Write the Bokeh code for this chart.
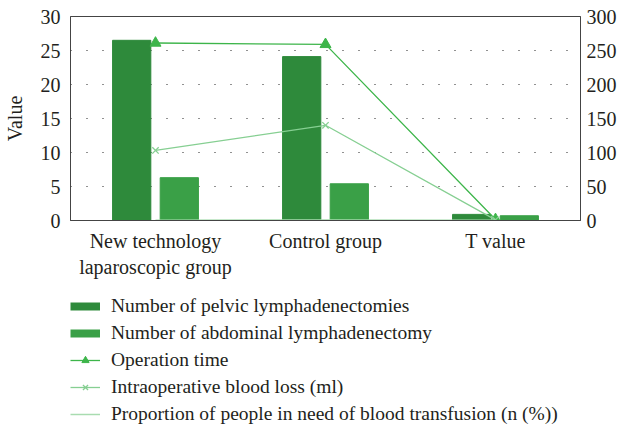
from bokeh.plotting import figure
from bokeh.layouts import column
from bokeh.models import (ColumnDataSource, FactorRange, Range1d, LinearAxis,
                          SingleIntervalTicker, Legend, LegendItem)
from bokeh.transform import dodge
from bokeh.embed import file_html
from bokeh.resources import INLINE

categories = ["New technology\nlaparoscopic group", "Control group", "T value"]
pelvic = [26.5, 24.1, 0.9]
abdominal = [6.3, 5.4, 0.7]
op_time = [261, 259, 1.5]
blood_loss = [103, 140, 1.0]
transfusion = [0.5, 0.6, 0.2]

legend_labels = ["Number of pelvic lymphadenectomies",
                 "Number of abdominal lymphadenectomy",
                 "Operation time",
                 "Intraoperative blood loss (ml)",
                 "Proportion of people in need of blood transfusion (n (%))"]

FONT = "Liberation Serif"
TXT = "#231f20"
C_PELVIC = "#2e8a3b"
C_ABD = "#3aa047"
C_OP = "#3db54a"
C_LOSS = "#86cf92"
C_TR = "#a9dcb0"

src = ColumnDataSource(dict(cat=categories, pelvic=pelvic, abdominal=abdominal,
                            op=op_time, loss=blood_loss, tr=transfusion))

p = figure(frame_width=510, frame_height=204, output_backend="svg", toolbar_location=None,
           x_range=FactorRange(factors=categories), y_range=Range1d(0, 30),
           min_border_left=64, min_border_top=16, min_border_right=4, min_border_bottom=62)
p.extra_y_ranges = {"right": Range1d(0, 300)}

p.outline_line_color = "#444444"
p.outline_line_width = 1
p.xgrid.grid_line_color = None
p.ygrid.grid_line_color = "#222222"
p.ygrid.grid_line_dash = "1 15"
p.ygrid.grid_line_width = 1.2

def style_axis(ax, standoff):
    ax.major_label_text_font = FONT
    ax.major_label_text_font_size = "20px"
    ax.major_label_text_color = TXT
    ax.major_label_standoff = standoff
    ax.major_tick_line_color = None
    ax.minor_tick_line_color = None
    ax.major_tick_out = 0
    ax.major_tick_in = 0
    ax.minor_tick_out = 0
    ax.minor_tick_in = 0
    ax.axis_line_color = "#444444"

# left axis
p.yaxis.ticker = SingleIntervalTicker(interval=5)
style_axis(p.yaxis[0], 10)
p.yaxis.axis_label = "Value"
p.yaxis.axis_label_text_font = FONT
p.yaxis.axis_label_text_font_style = "normal"
p.yaxis.axis_label_text_font_size = "20px"
p.yaxis.axis_label_text_color = TXT
p.yaxis.axis_label_standoff = 12

# right axis
ry = LinearAxis(y_range_name="right", ticker=SingleIntervalTicker(interval=50))
style_axis(ry, 6)
p.add_layout(ry, "right")

# x axis
style_axis(p.xaxis[0], 9)

p.vbar(x=dodge("cat", -0.14, range=p.x_range), top="pelvic", width=0.225,
       source=src, fill_color=C_PELVIC, line_color=C_PELVIC)
p.vbar(x=dodge("cat", 0.14, range=p.x_range), top="abdominal", width=0.225,
       source=src, fill_color=C_ABD, line_color=C_ABD)
p.line("cat", "op", source=src, y_range_name="right", line_color=C_OP, line_width=1.3)
p.scatter("cat", "op", source=src, y_range_name="right", marker="triangle",
          size=11, fill_color=C_OP, line_color=C_OP)
p.line("cat", "loss", source=src, y_range_name="right", line_color=C_LOSS, line_width=1.3)
p.scatter("cat", "loss", source=src, y_range_name="right", marker="x",
          size=9, line_color=C_LOSS, line_width=1.3)
p.line("cat", "tr", source=src, y_range_name="right", line_color=C_TR, line_width=1.5)

# legend panel (separate figure below the chart); swatch renderers sit outside its ranges
q = figure(width=610, height=148, output_backend="svg", toolbar_location=None,
           x_range=Range1d(0, 1), y_range=Range1d(0, 1),
           min_border_left=66, min_border_top=13, min_border_right=0, min_border_bottom=0)
q.axis.visible = False
q.grid.visible = False
q.outline_line_color = None
swatch = ColumnDataSource(dict(x=[-10, -9], y=[-10, -9]))
r1 = q.line("x", "y", source=swatch, line_color=C_PELVIC, line_width=8)
r2 = q.line("x", "y", source=swatch, line_color=C_ABD, line_width=8)
r3a = q.line("x", "y", source=swatch, line_color=C_OP, line_width=1.3)
r3b = q.scatter("x", "y", source=swatch, marker="triangle", size=9, fill_color=C_OP, line_color=C_OP)
r4a = q.line("x", "y", source=swatch, line_color=C_LOSS, line_width=1.3)
r4b = q.scatter("x", "y", source=swatch, marker="x", size=8, line_color=C_LOSS, line_width=1.3)
r5 = q.line("x", "y", source=swatch, line_color=C_TR, line_width=1.5)

items = [LegendItem(label=legend_labels[0], renderers=[r1]),
         LegendItem(label=legend_labels[1], renderers=[r2]),
         LegendItem(label=legend_labels[2], renderers=[r3a, r3b]),
         LegendItem(label=legend_labels[3], renderers=[r4a, r4b]),
         LegendItem(label=legend_labels[4], renderers=[r5])]
legend = Legend(items=items, location="top_left", orientation="vertical",
                border_line_color=None, background_fill_alpha=0,
                label_text_font=FONT, label_text_font_size="19.5px", label_text_color=TXT,
                glyph_width=30, glyph_height=18, label_height=20, spacing=5,
                label_standoff=11, padding=0, margin=0)
q.add_layout(legend, "center")

layout = column(p, q, spacing=0)
open("out.html", "w").write(file_html(layout, INLINE))
